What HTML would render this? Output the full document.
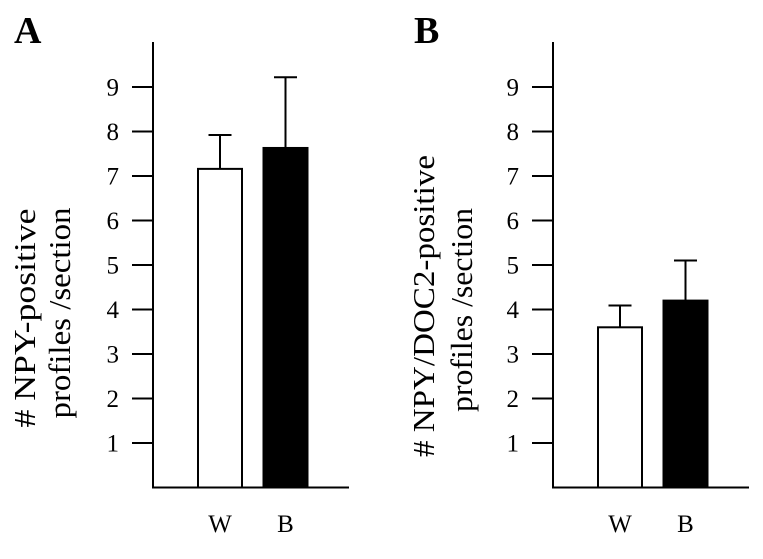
<!DOCTYPE html>
<html><head><meta charset="utf-8"><style>
html,body{margin:0;padding:0;background:#fff;}
svg text{font-family:"Liberation Serif",serif;fill:#000;}
</style></head><body>
<svg id="chart" width="763" height="554" viewBox="0 0 763 554" xmlns="http://www.w3.org/2000/svg">
<text x="14" y="43" font-size="38" font-weight="bold">A</text>
<text x="414" y="43" font-size="38" font-weight="bold">B</text>
<g id="pa"></g>
<g id="pb"></g>
</svg>
<script>
const categories = ["W", "B"];
const valuesA = [7.16, 7.63];
const errorsA = [7.92, 9.22];
const valuesB = [3.6, 4.2];
const errorsB = [4.09, 5.1];
const tickLabels = [1, 2, 3, 4, 5, 6, 7, 8, 9];
const NS = "http://www.w3.org/2000/svg";
function mk(parent, tag, attrs, txt) {
  const e = document.createElementNS(NS, tag);
  for (const k in attrs) e.setAttribute(k, attrs[k]);
  if (txt !== undefined) e.textContent = txt;
  parent.appendChild(e);
  return e;
}
function drawPanel(g, ax, values, errors, t1, t2) {
  const y0 = 487.5, unit = 44.5;
  const y = v => y0 - v * unit;
  const barX = i => ax + 45 + i * 65.5;
  const bw = 44;
  let e;
  e = mk(g, "line", {x1: ax, y1: 42, x2: ax, y2: y0 + 1, stroke: "#000", "stroke-width": 2});
  
  
  e = mk(g, "line", {x1: ax - 1, y1: y0, x2: ax + 196, y2: y0, stroke: "#000", "stroke-width": 2});
  
  
  tickLabels.forEach(t => {
    e = mk(g, "line", {x1: ax - 21, y1: y(t), x2: ax, y2: y(t), stroke: "#000", "stroke-width": 2});
    
    
    e = mk(g, "text", {x: ax - 34, y: y(t) + 8.5, "font-size": 25, "text-anchor": "end"}, String(t));
    
    
  });
  categories.forEach((c, i) => {
    const x = barX(i), cx = x + bw / 2;
    e = mk(g, "line", {x1: cx, y1: y(values[i]), x2: cx, y2: y(errors[i]), stroke: "#000", "stroke-width": 2});
    
    
    e = mk(g, "line", {x1: cx - 11.5, y1: y(errors[i]), x2: cx + 11.5, y2: y(errors[i]), stroke: "#000", "stroke-width": 2});
    
    
    e = mk(g, "rect", {x: x, y: y(values[i]), width: bw, height: y0 - y(values[i]), fill: i === 0 ? "#fff" : "#000", stroke: "#000", "stroke-width": 2});
    
    
    e = mk(g, "text", {x: cx, y: 532, "font-size": 25, "text-anchor": "middle"}, c);
    
    
  });
  [t1, t2].forEach((t, k) => {
    e = mk(g, "text", {x: t.x, y: t.cy, "font-size": 31, "text-anchor": "middle", textLength: t.len, lengthAdjust: "spacingAndGlyphs", transform: `rotate(-90 ${t.x} ${t.cy})`}, t.s);
    
    
  });
}
drawPanel(document.getElementById("pa"), 153,
  valuesA, errorsA,
  {s: "# NPY-positive", x: 35, cy: 318, len: 219},
  {s: "profiles /section", x: 70, cy: 313, len: 211});
drawPanel(document.getElementById("pb"), 553,
  valuesB, errorsB,
  {s: "# NPY/DOC2-positive", x: 434, cy: 306, len: 302},
  {s: "profiles /section", x: 472, cy: 310, len: 204});
</script>
</body></html>
